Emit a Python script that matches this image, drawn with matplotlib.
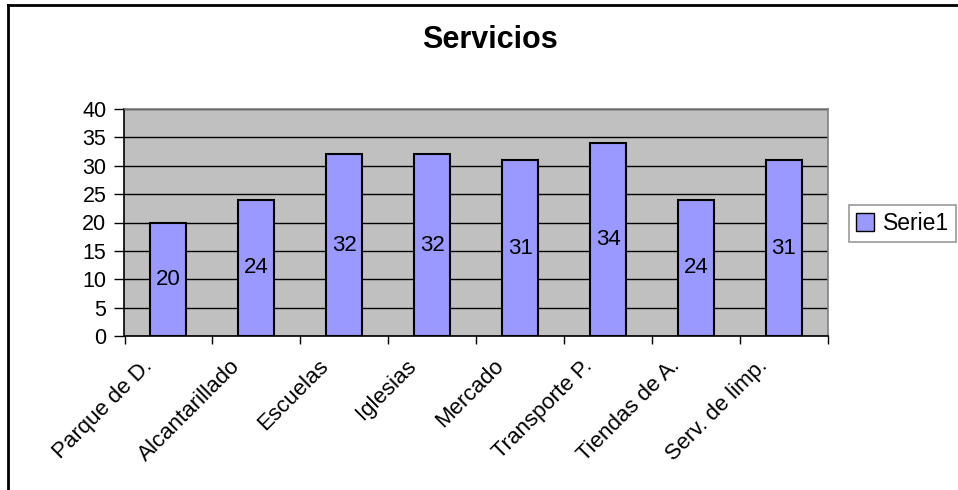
import matplotlib
matplotlib.use("Agg")
import matplotlib.pyplot as plt
from matplotlib.lines import Line2D
from matplotlib.patches import Patch
import matplotlib.transforms as mtransforms
import numpy as np

plt.rcParams['font.family'] = ['Liberation Sans', 'DejaVu Sans']

categories = ["Parque de D.", "Alcantarillado", "Escuelas", "Iglesias",
              "Mercado", "Transporte P.", "Tiendas de A.", "Serv. de limp."]
values = [20, 24, 32, 32, 31, 34, 24, 31]
yticks = [0, 5, 10, 15, 20, 25, 30, 35, 40]
series_name = "Serie1"
title = "Servicios"

W, H = 958, 490
fig = plt.figure(figsize=(W / 100, H / 100), dpi=100)
fig.patch.set_facecolor('white')

ax = fig.add_axes([124.5 / W, 1 - 336 / H, (828 - 124.5) / W, (336 - 109) / H])
ax.set_facecolor('#C0C0C0')

x = np.arange(len(categories))
bars = ax.bar(x, values, width=0.41, color='#9999FF', edgecolor='black',
              linewidth=1.5, zorder=3, label=series_name)

for xi, v in zip(x, values):
    ax.text(xi, v / 2, str(v), ha='center', va='center', fontsize=16,
            color='black', zorder=4)

ax.set_xlim(-0.5, len(categories) - 0.5)
ax.set_ylim(0, 40)
ax.set_yticks(yticks)
ax.set_yticklabels([str(t) for t in yticks], fontsize=15.5)
ax.yaxis.grid(True, color='black', linewidth=1.0, zorder=1)
ax.set_axisbelow(True)

ax.set_xticks(x)
ax.set_xticklabels(categories, rotation=45, ha='right', va='top',
                   fontsize=16, rotation_mode='default')
ax.set_xticks(np.arange(-0.5, len(categories), 1.0), minor=True)
ax.tick_params(axis='x', which='major', length=0, pad=14)
ax.tick_params(axis='x', which='minor', length=6, width=1, direction='out')
ax.tick_params(axis='y', length=7, width=1, direction='out', pad=6)

offset = mtransforms.ScaledTranslation(-12 / 100, 0, fig.dpi_scale_trans)
for lab in ax.get_xticklabels():
    lab.set_transform(lab.get_transform() + offset)

for s in ['left', 'bottom']:
    ax.spines[s].set_color('black')
    ax.spines[s].set_linewidth(1.2)
for s in ['top', 'right']:
    ax.spines[s].set_color('#808080')
    ax.spines[s].set_linewidth(1.2)

fig.text(490 / W, 1 - 40 / H, title, ha='center', va='center',
         fontsize=22, fontweight='bold')

handle = Patch(facecolor='#9999FF', edgecolor='black', linewidth=1.0)
leg = fig.legend([handle], [series_name], loc='upper left',
                 bbox_to_anchor=(849 / W, 1 - 205 / H), fontsize=16.5,
                 frameon=True, fancybox=False, borderpad=0.3,
                 handlelength=0.8, handleheight=0.8, handletextpad=0.4,
                 borderaxespad=0)
leg.get_frame().set_edgecolor('#808080')
leg.get_frame().set_linewidth(1.2)

# outer chart border (top and left visible)
fig.add_artist(Line2D([8 / W, 1.0], [1 - 5 / H, 1 - 5 / H], color='black',
                      linewidth=2, transform=fig.transFigure))
fig.add_artist(Line2D([8 / W, 8 / W], [1 - 5 / H, 0.0], color='black',
                      linewidth=2, transform=fig.transFigure))

fig.savefig('out.png', dpi=100)
